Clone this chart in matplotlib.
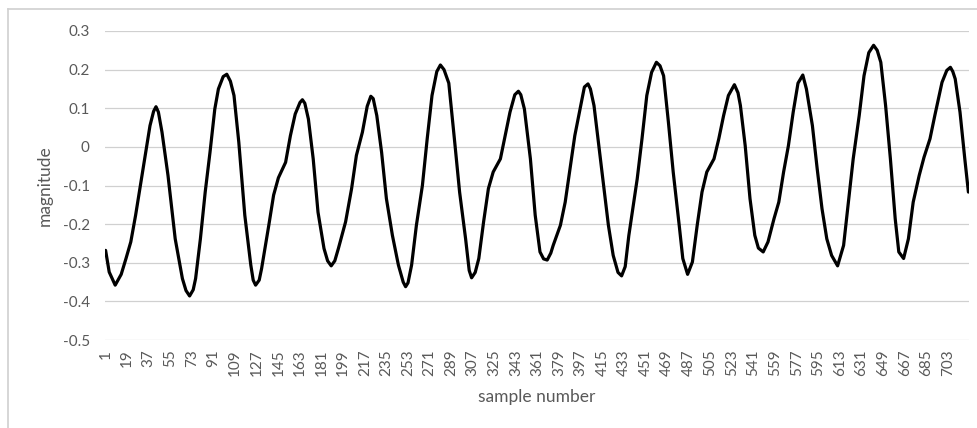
import matplotlib.pyplot as plt
from matplotlib.lines import Line2D

plt.rcParams['font.family'] = ['Lato', 'DejaVu Sans']

# values (sample number, magnitude)
sample = [1, 4, 9, 14, 18, 22, 26, 30, 34, 38, 41, 43, 45, 48, 53, 59, 65, 68, 71, 74,
          76, 80, 84, 88, 92, 95, 99, 102, 105, 108, 112, 117, 122, 124, 126, 129, 131, 137, 141, 145,
          151, 155, 159, 163, 165, 167, 170, 174, 178, 183, 186, 189, 192, 195, 201, 206, 210, 215, 219, 222,
          224, 227, 231, 235, 240, 245, 249, 251, 253, 256, 260, 265, 269, 273, 277, 280, 283, 287, 292, 296,
          301, 304, 306, 309, 312, 316, 320, 324, 330, 334, 338, 342, 345, 347, 350, 355, 359, 363, 366, 369,
          372, 374, 380, 384, 388, 392, 397, 400, 403, 405, 408, 412, 416, 420, 424, 428, 431, 434, 437, 444,
          448, 452, 456, 460, 463, 466, 470, 474, 479, 482, 486, 490, 494, 498, 502, 508, 512, 516, 520, 525,
          528, 530, 534, 538, 542, 545, 549, 553, 558, 562, 566, 570, 574, 578, 582, 585, 590, 594, 598, 602,
          606, 611, 616, 620, 624, 629, 633, 637, 641, 644, 647, 651, 655, 659, 662, 666, 670, 674, 679, 683,
          688, 692, 698, 702, 705, 707, 709, 713, 717, 720]
magnitude = [-0.268, -0.324, -0.358, -0.33, -0.289, -0.246, -0.177, -0.10, -0.022, 0.055,
             0.092, 0.104, 0.09, 0.038, -0.074, -0.238, -0.341, -0.372, -0.386, -0.37,
             -0.341, -0.238, -0.117, -0.014, 0.098, 0.15, 0.182, 0.188, 0.17, 0.133,
             0.012, -0.177, -0.306, -0.345, -0.358, -0.345, -0.315, -0.203, -0.125, -0.08,
             -0.04, 0.029, 0.085, 0.115, 0.122, 0.113, 0.072, -0.031, -0.169, -0.263,
             -0.295, -0.308, -0.295, -0.263, -0.194, -0.108, -0.022, 0.038, 0.105, 0.131,
             0.125, 0.081, -0.014, -0.134, -0.229, -0.306, -0.35, -0.362, -0.352, -0.306,
             -0.203, -0.1, 0.021, 0.133, 0.195, 0.212, 0.2, 0.165, 0.01, -0.117,
             -0.238, -0.32, -0.339, -0.325, -0.289, -0.194, -0.108, -0.065, -0.031, 0.029,
             0.09, 0.135, 0.144, 0.135, 0.098, -0.031, -0.177, -0.272, -0.29, -0.293,
             -0.275, -0.255, -0.203, -0.143, -0.057, 0.029, 0.107, 0.155, 0.163, 0.15,
             0.107, 0.003, -0.1, -0.203, -0.281, -0.325, -0.334, -0.31, -0.23, -0.083,
             0.021, 0.133, 0.193, 0.219, 0.21, 0.184, 0.064, -0.065, -0.203, -0.289,
             -0.33, -0.298, -0.203, -0.117, -0.065, -0.031, 0.021, 0.081, 0.133, 0.161,
             0.14, 0.107, 0.003, -0.134, -0.229, -0.262, -0.272, -0.246, -0.186, -0.143,
             -0.065, 0.003, 0.09, 0.165, 0.186, 0.15, 0.055, -0.057, -0.16, -0.238,
             -0.281, -0.308, -0.255, -0.143, -0.031, 0.081, 0.184, 0.244, 0.263, 0.25,
             0.219, 0.107, -0.031, -0.186, -0.272, -0.289, -0.238, -0.143, -0.074, -0.027,
             0.021, 0.081, 0.167, 0.198, 0.206, 0.195, 0.176, 0.09, -0.031, -0.117]

x_ticks = [1, 19, 37, 55, 73, 91, 109, 127, 145, 163, 181, 199, 217, 235, 253, 271, 289, 307, 325, 343,
           361, 379, 397, 415, 433, 451, 469, 487, 505, 523, 541, 559, 577, 595, 613, 631, 649, 667, 685, 703]
y_ticks = [-0.5, -0.4, -0.3, -0.2, -0.1, 0, 0.1, 0.2, 0.3]
y_labels = ["-0.5", "-0.4", "-0.3", "-0.2", "-0.1", "0", "0.1", "0.2", "0.3"]

text_color = "#595959"
grid_color = "#d0d0d0"

fig = plt.figure(figsize=(9.78, 4.28), dpi=100)
ax = fig.add_axes([105 / 978, 1 - 340 / 428, 864 / 978, 309 / 428])

ax.plot(sample, magnitude, color="black", lw=2.3,
        solid_joinstyle="round", solid_capstyle="round")

ax.set_xlim(0.5, 720.5)
ax.set_ylim(-0.5, 0.3)
ax.set_yticks(y_ticks)
ax.set_yticklabels(y_labels)
ax.set_xticks(x_ticks)
ax.set_xticklabels([str(t) for t in x_ticks], rotation=90)

ax.grid(axis="y", color=grid_color, lw=0.9)
ax.set_axisbelow(True)
for s in ax.spines.values():
    s.set_visible(False)
ax.tick_params(axis="both", length=0, colors=text_color, labelsize=11)
ax.tick_params(axis="y", pad=11)
ax.tick_params(axis="x", pad=7)

ax.set_xlabel("sample number", fontsize=12.5, color=text_color)
ax.set_ylabel("magnitude", fontsize=12.5, color=text_color)
ax.xaxis.set_label_coords(0.5, -57 / 309)
ax.xaxis.label.set_va("center")
ax.yaxis.set_label_coords(-60 / 864, 0.5)
ax.yaxis.label.set_va("center")

# chart frame (only top and left edges visible in the crop)
fig.add_artist(Line2D([8 / 978, 1], [1 - 9 / 428, 1 - 9 / 428], color=grid_color, lw=1.2))
fig.add_artist(Line2D([8 / 978, 8 / 978], [0, 1 - 9 / 428], color=grid_color, lw=1.2))

fig.savefig("out.png", dpi=100)
